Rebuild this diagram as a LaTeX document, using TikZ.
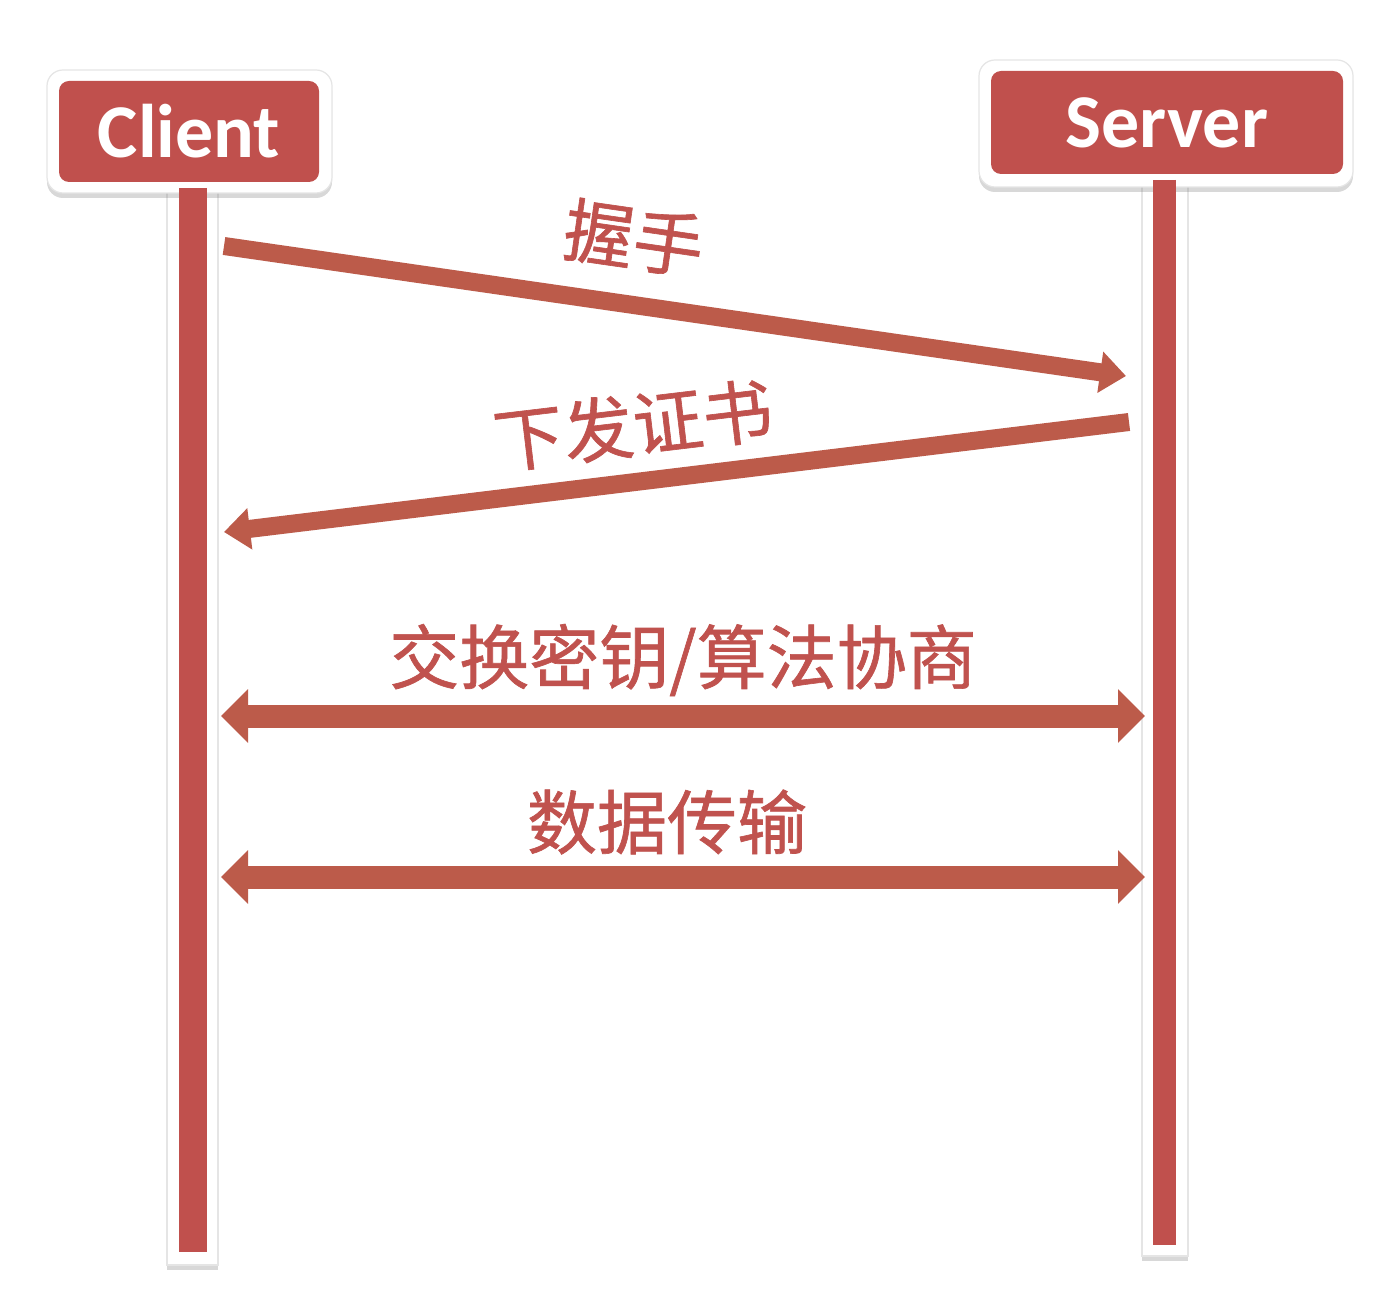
\documentclass[tikz,border=0pt]{standalone}
\usepackage{fontspec}
\setmainfont{Carlito}
\newfontfamily\cjk[FakeBold=0.9]{Noto Sans CJK SC}
\usetikzlibrary{arrows.meta,shadows,calc}
\definecolor{boxred}{HTML}{C0504D}
\definecolor{arrred}{HTML}{BC5B4A}
\definecolor{lblred}{HTML}{C0524E}
\begin{document}
\begin{tikzpicture}[x=0.5pt,y=-0.5pt,
  backing/.style={fill=white, draw=black!10, line width=0.6pt,
    drop shadow={shadow xshift=0pt, shadow yshift=-2.5pt, opacity=0.25, fill=black!60}},
  headbox/.style={fill=boxred, rounded corners=5pt, text=white,
    font=\bfseries\fontsize{38}{40}\selectfont, minimum width=130pt, minimum height=50.5pt, inner sep=0pt},
  lifebar/.style={draw=boxred, line width=14pt},
  msg/.style={draw=arrred, line width=9pt, -{Triangle[width=20pt,length=13pt]}},
  msgboth/.style={draw=arrred, line width=11.5pt,
    {Triangle[width=26pt,length=13.5pt]}-{Triangle[width=26pt,length=13.5pt]}},
  lbl/.style={text=lblred, font=\cjk\fontsize{35}{38}\selectfont, inner sep=0pt}]
\useasboundingbox (0,0) rectangle (1400,1304);
\fill[white] (0,0) rectangle (1400,1304);

% white backings
\path[backing] (167,186) rectangle (218,1265);
\path[backing] (1142,178) rectangle (1188,1256);
\path[backing, rounded corners=8pt] (47,70) rectangle (332,193);
\path[backing, rounded corners=8pt] (979,60) rectangle (1353,187);

% lifelines
\coordinate (ctop) at (192.5,188);
\coordinate (cbot) at (192.5,1252);
\coordinate (stop) at (1164.5,180);
\coordinate (sbot) at (1164.5,1245);
\draw[lifebar] (ctop) -- (cbot);
\draw[lifebar, line width=11.5pt] (stop) -- (sbot);

% header boxes
\node[headbox] (client) at (189,131.5) {Client};
\node[headbox, minimum width=176pt, minimum height=51.5pt] (server) at (1167,122.5) {Server};

% message end points
\coordinate (a1s) at (224,246);
\coordinate (a1e) at (1126,376);
\coordinate (a2s) at (1129,422);
\coordinate (a2e) at (224,532);
\coordinate (a3l) at (221,716);
\coordinate (a3r) at (1145,716);
\coordinate (a4l) at (221,877);
\coordinate (a4r) at (1145,877);

\draw[msg] (a1s) -- (a1e);
\draw[msg] (a2s) -- (a2e);
\draw[msgboth] (a3l) -- (a3r);
\draw[msgboth] (a4l) -- (a4r);

% labels
\node[lbl, rotate=-8.2] (l1) at (634,238) {握手};
\node[lbl, rotate=6.8] (l2) at (633,425) {下发证书};
\node[lbl] (l3) at (683,660) {交换密钥/算法协商};
\node[lbl] (l4) at (667,822) {数据传输};
\end{tikzpicture}
\end{document}
